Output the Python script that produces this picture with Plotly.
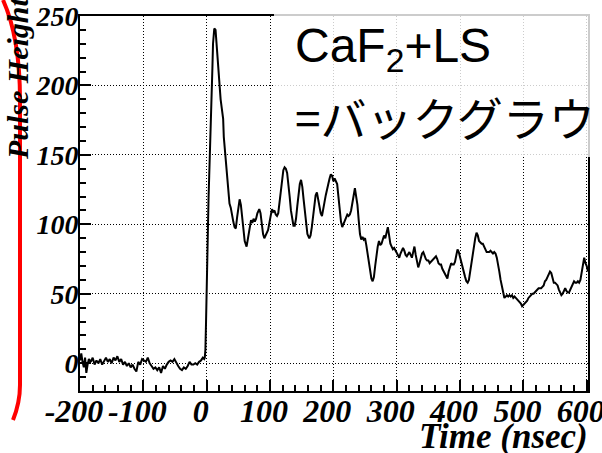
import plotly.graph_objects as go

# ---------------- data ----------------
time_ns = [
    -200, -198, -196, -194, -192, -190, -188, -186, -183, -180, -177, -174, -171, -168, -165,
    -162, -159, -156, -153, -150, -147, -144, -141, -138, -135, -132, -129, -126, -123, -120,
    -117, -114, -111, -108, -105, -102, -99, -96, -93, -90, -87, -84, -81, -78, -75, -72,
    -69, -66, -63, -60, -57, -54, -51, -48, -45, -42, -39, -36, -33, -30, -27, -24, -21,
    -18, -15, -12, -9, -6, -4,
    -3, -2, -1, 0, 1, 2, 3, 4, 5, 6, 7, 8, 9, 10, 11, 12, 14, 15, 16, 17, 18, 19, 21, 22,
    24, 26, 27, 29, 31, 32, 34, 36, 38, 40, 42, 44, 46, 48, 50, 52, 54, 56, 58, 60, 63, 65,
    68, 70, 72, 74, 76, 78, 80, 83, 85, 87, 89, 91, 93, 95, 97, 99, 101, 103, 105, 107, 109,
    111, 113, 115, 117, 119, 121, 123, 125, 127, 129, 131, 133, 135, 137, 139, 141, 143, 145,
    147, 149, 151, 153, 155, 157, 159, 162, 164, 166, 168, 170, 172, 174, 176, 178, 180, 182,
    184, 186, 188, 190, 192, 194, 196, 198, 200, 202, 204, 206, 208, 210, 212, 214, 216, 218,
    220, 222, 224, 226, 228, 230, 232, 234, 236, 238, 240, 242, 244, 246, 248, 250, 252, 254,
    256, 258, 260, 262, 264, 266, 268, 270, 272, 274, 276, 278, 280, 282, 284, 286, 288, 290,
    292, 294, 296, 298, 300, 302, 304, 306, 308, 310, 312, 314, 316, 318, 320, 322, 324, 326,
    328, 330, 332, 334, 336, 338, 340, 342, 344, 346, 348, 350, 352, 354, 356, 358, 360, 362,
    364, 366, 368, 370, 372, 374, 376, 378, 380, 382, 384, 386, 388, 390, 392, 394, 396, 398,
    400, 402, 404, 406, 408, 410, 412, 414, 416, 418, 420, 422, 424, 426, 428, 430, 432, 434,
    436, 438, 440, 442, 444, 446, 448, 450, 452, 454, 456, 458, 460, 462, 464, 466, 468, 470,
    472, 474, 476, 478, 480, 482, 484, 486, 488, 490, 492, 494, 496, 498, 500, 502, 504, 506,
    508, 510, 512, 514, 516, 518, 520, 522, 524, 526, 528, 530, 532, 534, 536, 538, 540, 542,
    544, 546, 548, 550, 552, 554, 556, 558, 560, 562, 564, 566, 568, 570, 572, 574, 576, 578,
    580, 582, 584, 586, 588, 590, 592, 594, 596, 598, 600, 602,
]
pulse_height = [
    2, 7, 1, -3, 4, -7, -1, 3, 1, 4, -1, 2, 0, 3, -1,
    2, 4, 1, 3, 0, 4, 2, 5, 1, 3, -1, 1, -2, 0, -3,
    -1, -4, -6, 1, -1, 3, 2, 1, 4, 0, -2, -4, -3, -5, -3, -7,
    -2, -4, -1, 1, 2, 1, 3, 0, -2, -4, -5, -3, -4, -2, 1, -1, -1,
    0, -1, 1, 2, 4, 3,
    4, 10, 30, 60, 85, 105, 120, 135, 155, 165, 180, 200, 212, 230, 238, 241, 240, 233, 225, 218, 212, 205, 198, 190,
    183, 176, 163, 152, 140, 131, 121, 115, 112, 106, 102, 98, 97, 105, 113, 118, 114, 105, 95, 88, 84, 90,
    100, 103, 101, 104, 102, 104, 108, 111, 108, 99, 93, 90, 92, 94, 96, 101, 106, 111, 109, 110, 107,
    106, 108, 115, 125, 133, 139, 141, 140, 137, 130, 120, 110, 103, 99, 99, 104, 113, 122,
    129, 132, 127, 118, 108, 99, 93, 90, 92, 98, 106, 115, 121, 123, 118, 112, 108, 106,
    110, 116, 121, 126, 129, 133, 136, 135, 131, 133, 131, 129, 120, 110, 102, 98, 100, 103,
    105, 107, 106, 107, 110, 116, 123, 126, 120, 114, 103, 93, 89, 91, 89, 90, 85, 78,
    72, 66, 61, 59, 62, 70, 78, 84, 88, 85, 86, 90, 92, 90, 95, 98, 92, 86,
    84, 82, 83, 81, 79, 78, 76, 79, 81, 83, 81, 78, 77, 79, 80, 78, 76, 80,
    84, 78, 73, 69, 72, 76, 79, 80, 77, 75, 74, 74, 72, 73, 74, 75, 76, 77,
    75, 72, 71, 71, 68, 66, 64, 62, 61, 66, 70, 72, 71, 71, 73, 78, 82, 80,
    76, 72, 69, 66, 62, 59, 58, 60, 66, 73, 80, 86, 90, 94, 92, 88, 87, 86,
    86, 84, 82, 80, 80, 80, 81, 80, 79, 80, 79, 76, 72, 66, 60, 55, 51, 47,
    48, 49, 48, 49, 48, 49, 47, 48, 47, 46, 45, 44, 43, 41, 42, 43, 44, 45,
    47, 48, 49, 50, 50, 51, 52, 53, 54, 54, 54, 55, 56, 59, 60, 62, 64, 66,
    65, 61, 58, 58, 57, 56, 53, 51, 49, 50, 52, 54, 52, 51, 51, 53, 56, 57,
    59, 58, 58, 59, 58, 60, 66, 72, 76, 72, 70, 66,
]

x_tick_values = [-200, -100, 0, 100, 200, 300, 400, 500, 600]
x_tick_text = ["-200", "-100", "0", "100", "200", "300", "400", "500", "600"]
y_tick_values = [0, 50, 100, 150, 200, 250]
y_tick_text = ["0", "50", "100", "150", "200", "250"]
x_title = "Time (nsec)"
y_title = "Pulse Height"
note_line1 = "CaF<sub>2</sub>+LS"
note_line2 = "=バックグラウ"

# ---------------- layout geometry ----------------
W, H = 602, 453
L, R, T, B = 80, 14, 16, 62
PW, PH = W - L - R, H - T - B


def px(x):
    return (x - L) / PW


def py(y):
    return (H - B - y) / PH


serif = dict(family="Liberation Serif", color="black", weight="bold", style="italic")

fig = go.Figure()
fig.add_trace(go.Scatter(x=time_ns, y=pulse_height, mode="lines",
                         line=dict(color="black", width=2), hoverinfo="skip"))

axis_common = dict(
    showline=True, linecolor="black", linewidth=2, mirror=True,
    ticks="inside", ticklen=11, tickwidth=1.5, tickcolor="black",
    showgrid=True, gridcolor="black", gridwidth=1, griddash="1px,2px",
    zeroline=False, automargin=False, tickangle=0, ticklabeloverflow="allow",
)

fig.update_xaxes(
    range=[-200, 602], tickvals=x_tick_values, ticktext=x_tick_text,
    tickfont=dict(size=32, **serif), ticklabelshift=-6, ticklabelstandoff=-9,
    minor=dict(dtick=20, ticks="inside", ticklen=6, tickwidth=1.5, tickcolor="black", showgrid=False),
    **axis_common,
)
fig.update_yaxes(
    range=[-20, 250], tickvals=y_tick_values, ticktext=y_tick_text,
    tickfont=dict(size=28, **serif), ticklabelstandoff=-6,
    minor=dict(dtick=10, ticks="inside", ticklen=6, tickwidth=1.5, tickcolor="black", showgrid=False),
    **axis_common,
)

# translucent white box over the upper right region
fig.add_shape(type="rect", xref="paper", yref="paper",
              x0=px(274), x1=px(602), y0=py(157), y1=py(0),
              fillcolor="white", opacity=0.8, line=dict(width=0), layer="above")

# red bracket stroke at left
pts = [(3, 0), (12, 20), (20, 50), (20, 100), (20, 385), (20, 400), (17, 410), (13, 420)]
pp = [(px(a), py(b)) for a, b in pts]
path = (f"M {pp[0][0]},{pp[0][1]} C {pp[1][0]},{pp[1][1]} {pp[2][0]},{pp[2][1]} {pp[3][0]},{pp[3][1]} "
        f"L {pp[4][0]},{pp[4][1]} C {pp[5][0]},{pp[5][1]} {pp[6][0]},{pp[6][1]} {pp[7][0]},{pp[7][1]}")
fig.add_shape(type="path", xref="paper", yref="paper", path=path,
              line=dict(color="#ff0000", width=4), layer="above")

fig.add_annotation(text=x_title, xref="paper", yref="paper", x=px(590), y=py(436),
                   xanchor="right", yanchor="middle", showarrow=False,
                   font=dict(size=35, **serif))
fig.add_annotation(text=y_title, xref="paper", yref="paper", x=px(17), y=py(78),
                   xanchor="center", yanchor="middle", textangle=-90, showarrow=False,
                   font=dict(size=30, **serif))
fig.add_annotation(text=note_line1, xref="paper", yref="paper", x=px(293), y=py(49),
                   xanchor="left", yanchor="middle", showarrow=False,
                   font=dict(family="Liberation Sans", size=48, color="black"))
fig.add_annotation(text=note_line2, xref="paper", yref="paper", x=px(293), y=py(116),
                   xanchor="left", yanchor="middle", showarrow=False,
                   font=dict(family="Noto Sans CJK JP", size=46, color="black"))

fig.update_layout(
    width=W, height=H, margin=dict(l=L, r=R, t=T, b=B),
    paper_bgcolor="white", plot_bgcolor="white", showlegend=False,
)

fig.write_html("out.html")
